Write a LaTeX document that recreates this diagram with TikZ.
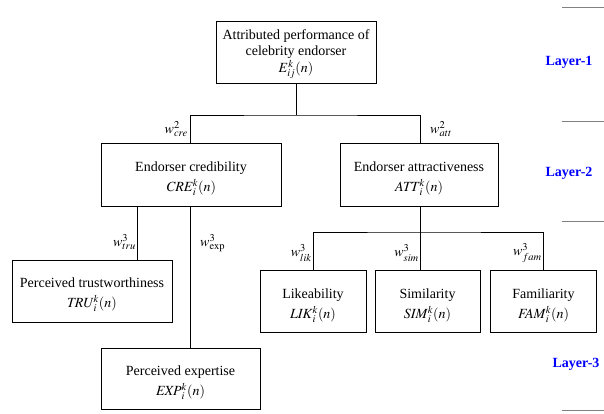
\documentclass[tikz,border=0pt]{standalone}
\usepackage{mathptmx}
\usepackage{fontspec}
\setmainfont{Liberation Serif}
\DeclareMathSizes{14}{14}{10.5}{8}
\begin{document}
\begin{tikzpicture}[x=1pt,y=-1pt,
  box/.style={draw,line width=0.8pt,inner sep=0pt},
  txt/.style={align=center,inner sep=0pt,font=\fontsize{14}{18}\selectfont},
  conn/.style={line width=0.8pt},
  wlab/.style={inner sep=1pt,font=\fontsize{14}{16}\selectfont},
  layer/.style={text=blue,font=\fontsize{14}{16}\selectfont\bfseries},
  sep/.style={draw=gray,line width=0.8pt}]
\useasboundingbox (0,0) rectangle (604,413);
% boxes
\node[box,minimum width=160,minimum height=62] (top) at (296,52) {};
\node[box,minimum width=180,minimum height=63] (cre) at (191,174.5) {};
\node[box,minimum width=158,minimum height=63] (att) at (419,174.5) {};
\node[box,minimum width=160,minimum height=62] (tru) at (92,291) {};
\node[box,minimum width=159,minimum height=61] (exp) at (180.5,378.5) {};
\node[box,minimum width=106,minimum height=62] (lik) at (313,301) {};
\node[box,minimum width=105,minimum height=62] (sim) at (427.5,301) {};
\node[box,minimum width=106,minimum height=62] (fam) at (543.5,301) {};
% box texts
\node[txt] (ttop) at ([yshift=-2pt]top.center)
  {Attributed performance of\\[-2pt]celebrity endorser\\[-1pt]$E_{ij}^{k}(n)$};
\node[txt] (tcre) at ([yshift=-4pt]cre.center)
  {Endorser credibility\\[2pt]$\mathit{CRE}_{i}^{k}(n)$};
\node[txt] (tatt) at ([yshift=-4pt]att.center)
  {Endorser attractiveness\\[2pt]$\mathit{ATT}_{i}^{k}(n)$};
\node[txt] (ttru) at ([yshift=-4pt]tru.center)
  {Perceived trustworthiness\\[2pt]$\mathit{TRU}_{i}^{k}(n)$};
\node[txt] (texp) at ([yshift=-4pt]exp.center)
  {Perceived expertise\\[2pt]$\mathit{EXP}_{i}^{k}(n)$};
\node[txt] (tlik) at ([yshift=-5pt]lik.center)
  {Likeability\\[2pt]$\mathit{LIK}_{i}^{k}(n)$};
\node[txt] (tsim) at ([yshift=-5pt]sim.center)
  {Similarity\\[2pt]$\mathit{SIM}_{i}^{k}(n)$};
\node[txt] (tfam) at ([yshift=-5pt]fam.center)
  {Familiarity\\[2pt]$\mathit{FAM}_{i}^{k}(n)$};
% junctions
\coordinate (j1) at (296,115);
\coordinate (j2) at (420,232);
\coordinate (t1) at (137,0);
\coordinate (c1) at (190,0);
% connectors
\draw[conn] (top.south) -- (j1);
\draw[conn] (c1 |- cre.north) |- (j1) -| (j2 |- att.north);
\draw[conn] (t1 |- cre.south) -- (t1 |- tru.north);
\draw[conn] (c1 |- cre.south) -- (c1 |- exp.north);
\draw[conn] (j2 |- att.south) -- (j2);
\draw[conn] (lik.north) |- (j2) -| (fam.north);
\draw[conn] (j2) -- (j2 |- sim.north);
% weight labels
\node[wlab,anchor=east] (wcre) at (189,129) {$w_{cre}^{2}$};
\node[wlab,anchor=west] (watt) at (429,129) {$w_{att}^{2}$};
\node[wlab,anchor=east] (wtru) at (137,242) {$w_{tru}^{3}$};
\node[wlab,anchor=west] (wexp) at (199,243) {$w_{\exp}^{3}$};
\node[wlab,anchor=east] (wlik) at (313,253) {$w_{lik}^{3}$};
\node[wlab,anchor=east] (wsim) at (420,253) {$w_{sim}^{3}$};
\node[wlab,anchor=east] (wfam) at (543,253) {$w_{fam}^{3}$};
% layer labels
\node[layer] (l1) at (569,62) {Layer-1};
\node[layer] (l2) at (569,173) {Layer-2};
\node[layer] (l3) at (576,364) {Layer-3};
% layer separators
\draw[sep] (562,7) -- (604,7);
\draw[sep] (562,121) -- (604,121);
\draw[sep] (562,221) -- (604,221);
\draw[sep] (562,410) -- (604,410);
\end{tikzpicture}
\end{document}
